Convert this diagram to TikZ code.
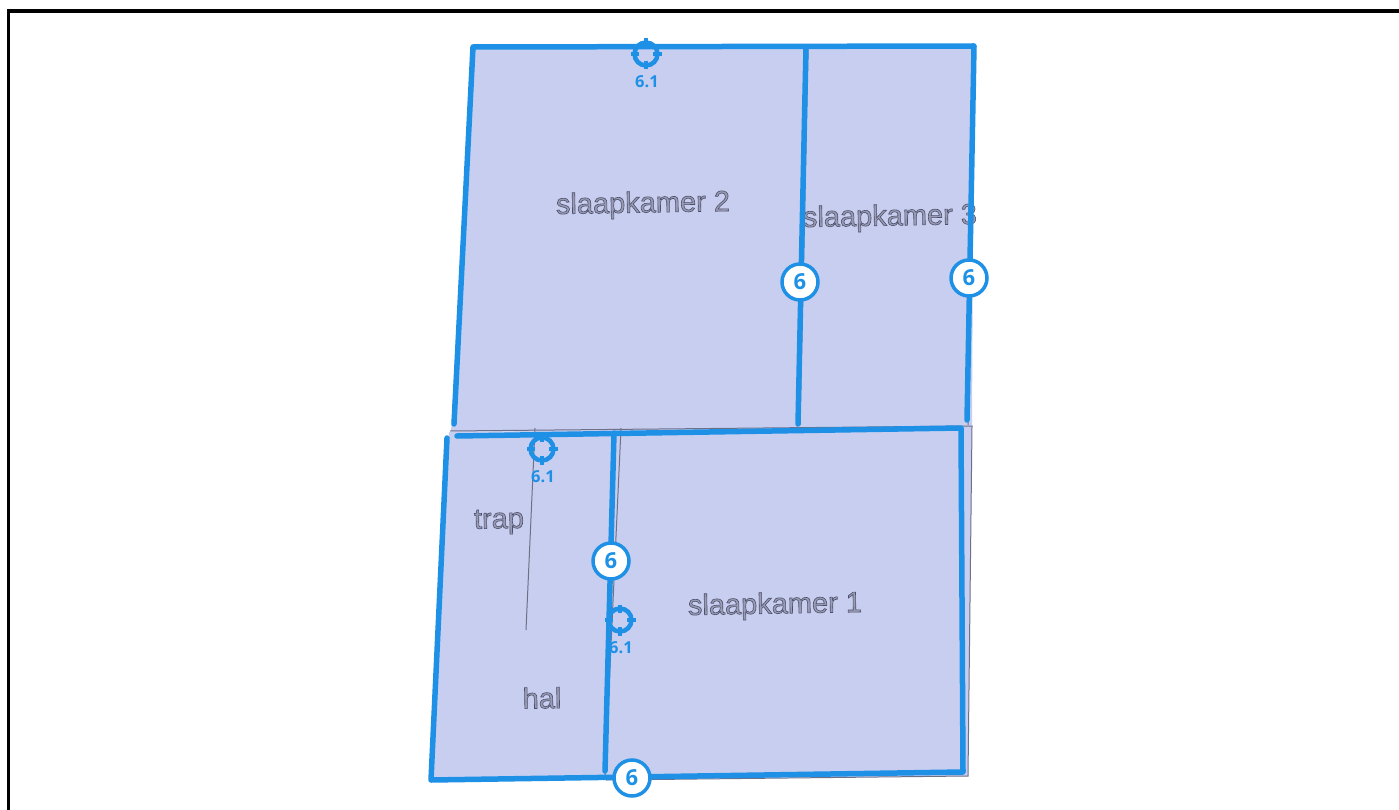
\documentclass[tikz,border=0pt]{standalone}
\usepackage{fontspec}
\setmainfont{Liberation Sans}
\newfontfamily\badgefont{Open Sans}
\usetikzlibrary{positioning}
\definecolor{wallblue}{HTML}{1E90E6}
\definecolor{roomfill}{HTML}{C8CEF0}
\definecolor{thinline}{HTML}{6E7088}
\definecolor{roomtext}{HTML}{9A9CB6}
% omlijnde letters
\newcommand{\omlijnd}[1]{\special{pdf:code q 2 Tr 0.6 w 0.3 0.31 0.41 RG}#1\special{pdf:code Q}}
\tikzset{
  wall/.style={draw=wallblue, line width=5.5pt, line cap=round, line join=round},
  thin wall/.style={draw=thinline, line width=1pt},
  room/.style={text=roomtext, font=\fontsize{29}{30}\selectfont, inner sep=0pt},
  badge/.style={circle, draw=wallblue, fill=white, line width=3.5pt, minimum size=36pt, inner sep=0pt,
    text=wallblue, font=\badgefont\bfseries\fontsize{22}{23}\selectfont},
  target/.style={circle, draw=wallblue, line width=4.5pt, minimum size=23pt, inner sep=0pt},
  targetlabel/.style={text=wallblue, inner sep=0pt, font=\badgefont\bfseries\fontsize{16.5}{17}\selectfont}
}
\begin{document}
\begin{tikzpicture}[x=1pt, y=-1pt]
    \useasboundingbox (0,0) rectangle (1399,810);

    % Kader
    \draw[line width=3.4pt] (8.5,810) -- (8.5,11) -- (1399,11);

    % Vloervlakken
    \fill[roomfill] (473,46) -- (974,45) -- (972,427) -- (451,432) -- cycle;
    \fill[roomfill] (449,432) -- (972,426) -- (968,776) -- (430,781) -- cycle;

    % Dunne lijnen
    \draw[thin wall] (450,431) -- (972,426) -- (968,776) -- (606,780);
    \draw[thin wall] (535,428) -- (526,630);
    \draw[thin wall] (621,428) -- (605,775);
    \draw[thin wall] (808,47) -- (800,425);
    \draw[thin wall] (975,47) -- (968,425);

    % Ruimtes
    \node[room, rotate=1] (kamer2) at (643,205) {\omlijnd{slaapkamer 2}};
    \node[room, rotate=1] (kamer3) at (890,218) {\omlijnd{slaapkamer 3}};
    \node[room, rotate=1] (kamer1) at (775,606) {\omlijnd{slaapkamer 1}};
    \node[room, rotate=1] (trap) at (499,522) {\omlijnd{trap}};
    \node[room, rotate=1] (hal) at (542,698) {\omlijnd{hal}};

    % Wanden
    \draw[wall] (454,424) -- (473,47) -- (974,46) -- (967,420);
    \draw[wall] (806,47) -- (798,424);
    \draw[wall] (457,436) -- (961,428) -- (963,772) -- (431,780) -- (447,438);
    \draw[wall] (614,433) -- (605,771);

    % Doelen
    \foreach \name/\x/\y in {a/646/54, b/542/449, c/620/620} {
        \node[target] (doel\name) at (\x,\y) {};
        \node[targetlabel, below=8pt of doel\name, xshift=1pt] (tekst\name) {6.1};
        \foreach \hoek in {0, 90, 180, 270}
            \draw[wallblue, line width=3.5pt] (\x,\y) ++(\hoek:7) -- ++(\hoek:8.5);
    }

    % Nummers
    \node[badge] (nummera) at (800,282) {6};
    \node[badge] (nummerb) at (969,278) {6};
    \node[badge] (nummerc) at (611,561) {6};
    \node[badge] (nummerd) at (632,778) {6};
\end{tikzpicture}
\end{document}
